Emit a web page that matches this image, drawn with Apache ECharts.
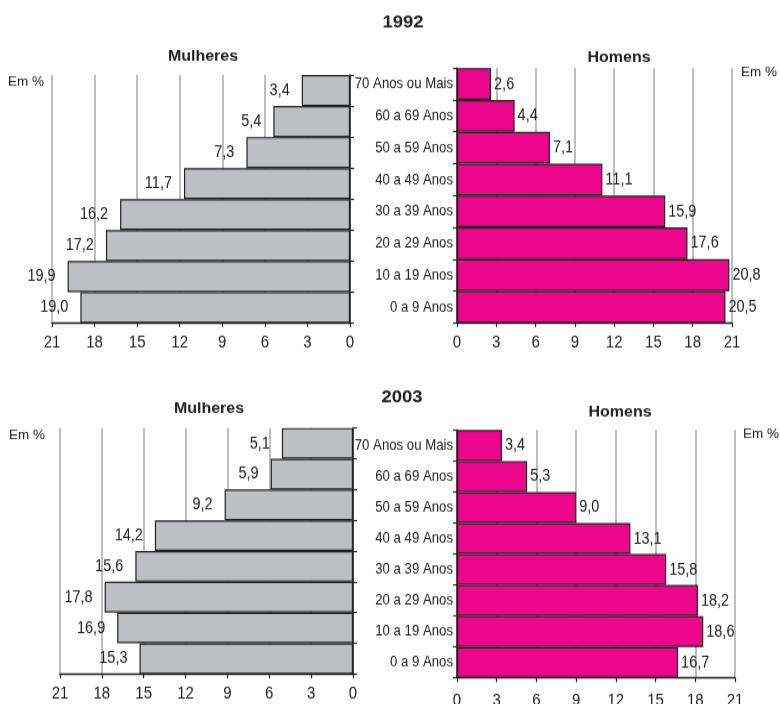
<!DOCTYPE html>
<html>
<head>
<meta charset="utf-8">
<script src="https://cdn.jsdelivr.net/npm/echarts@6/dist/echarts.min.js"></script>
<style>
html,body{margin:0;padding:0;background:#fff;overflow:hidden;}
#wrap{width:780px;height:704px;overflow:hidden;}
#chart{width:780px;height:592px;transform:scaleY(1.19);transform-origin:0 0;}
</style>
</head>
<body>
<div id="wrap"><div id="chart"></div></div>
<script>
// ---- data ----
const categories = ['0 a 9 Anos','10 a 19 Anos','20 a 29 Anos','30 a 39 Anos','40 a 49 Anos','50 a 59 Anos','60 a 69 Anos','70 Anos ou Mais'];
const mulheres1992 = [19.0, 19.9, 17.2, 16.2, 11.7, 7.3, 5.4, 3.4];
const homens1992   = [20.5, 20.8, 17.6, 15.9, 11.1, 7.1, 4.4, 2.6];
const mulheres2003 = [15.3, 16.9, 17.8, 15.6, 14.2, 9.2, 5.9, 5.1];
const homens2003   = [16.7, 18.6, 18.2, 15.8, 13.1, 9.0, 5.3, 3.4];
const xMin = 0, xMax = 21, xStep = 3;
const yearTitles = ['1992', '2003'];
const sexTitles = ['Mulheres', 'Homens'];
const unitLabel = 'Em %';

// the original chart's body text is tall and narrow; emulate by stretching
// the canvas vertically and counter-scaling the titles
const S = 1.19;
const Y = v => v / S;

const NF = "'Liberation Sans', Arial, sans-serif";
const TXT = '#222';
const fmt = v => Number(v).toFixed(1).replace('.', ',');

const grids = [
  {left: 52, top: Y(75), width: 298, height: Y(248), outerBoundsMode: 'none', containLabel: false},
  {left: 457, top: Y(68), width: 275, height: Y(255), outerBoundsMode: 'none', containLabel: false},
  {left: 60, top: Y(428), width: 293, height: Y(246), outerBoundsMode: 'none', containLabel: false},
  {left: 457, top: Y(430), width: 278, height: Y(248), outerBoundsMode: 'none', containLabel: false}
];

function xAxis(i, inverse){
  return {
    type: 'value', gridIndex: i, min: xMin, max: xMax, interval: xStep, inverse: inverse,
    axisLine: {show: true, lineStyle: {color: TXT, width: 1.3}},
    axisTick: {show: true, length: 3.5, lineStyle: {color: TXT, width: 1.2}},
    axisLabel: {color: TXT, fontFamily: NF, fontSize: 15, margin: i === 3 ? 12 : 9},
    splitLine: {show: true, lineStyle: {color: '#a8a8a8', width: 1.5}}
  };
}
function yAxis(i, right){
  return {
    type: 'category', gridIndex: i, data: categories, position: right ? 'right' : 'left',
    axisLine: {show: true, lineStyle: {color: TXT, width: 1.5}},
    axisTick: {show: true, length: 4, lineStyle: {color: TXT, width: 1.1}},
    axisLabel: {show: !right, color: TXT, fontFamily: NF, fontSize: 13.2, margin: 4},
    splitLine: {show: false}
  };
}
function series(i, data, color, left){
  return {
    type: 'bar', xAxisIndex: i, yAxisIndex: i, data: data,
    barCategoryGap: '0%',
    itemStyle: {color: color, borderColor: '#222', borderWidth: 1.2},
    label: {show: true, position: left ? 'left' : 'right', distance: left ? 12 : 3,
      formatter: p => fmt(p.value), color: TXT, fontFamily: NF, fontSize: 14.5},
    animation: false
  };
}
const GRAY = '#bebfc3', PINK = '#ec068c';

function txt(x, y, text, size, bold, align){
  return {type: 'text', x: x, y: Y(y), scaleY: 1 / S,
    style: {text: text, fontSize: size, fontWeight: bold ? 'bold' : 'normal',
    fontFamily: NF, fill: TXT, textAlign: align || 'center', textVerticalAlign: 'middle'}};
}

const option = {
  backgroundColor: '#fff',
  animation: false,
  grid: grids,
  xAxis: [xAxis(0, true), xAxis(1, false), xAxis(2, true), xAxis(3, false)],
  yAxis: [yAxis(0, true), yAxis(1, false), yAxis(2, true), yAxis(3, false)],
  series: [
    series(0, mulheres1992, GRAY, true),
    series(1, homens1992, PINK, false),
    series(2, mulheres2003, GRAY, true),
    series(3, homens2003, PINK, false)
  ],
  graphic: [
    txt(403, 22, yearTitles[0], 18.5, true),
    txt(203, 56, sexTitles[0], 16, true),
    txt(619, 57, sexTitles[1], 16, true),
    txt(8, 82, unitLabel, 13.5, false, 'left'),
    txt(741, 72, unitLabel, 13.5, false, 'left'),
    txt(402, 397, yearTitles[1], 18.5, true),
    txt(209, 408, sexTitles[0], 16, true),
    txt(620, 412, sexTitles[1], 16, true),
    txt(9, 435, unitLabel, 13.5, false, 'left'),
    txt(743, 434, unitLabel, 13.5, false, 'left')
  ]
};
const chart = echarts.init(document.getElementById('chart'), null, {renderer: 'canvas'});
chart.setOption(option);
</script>
</body>
</html>
